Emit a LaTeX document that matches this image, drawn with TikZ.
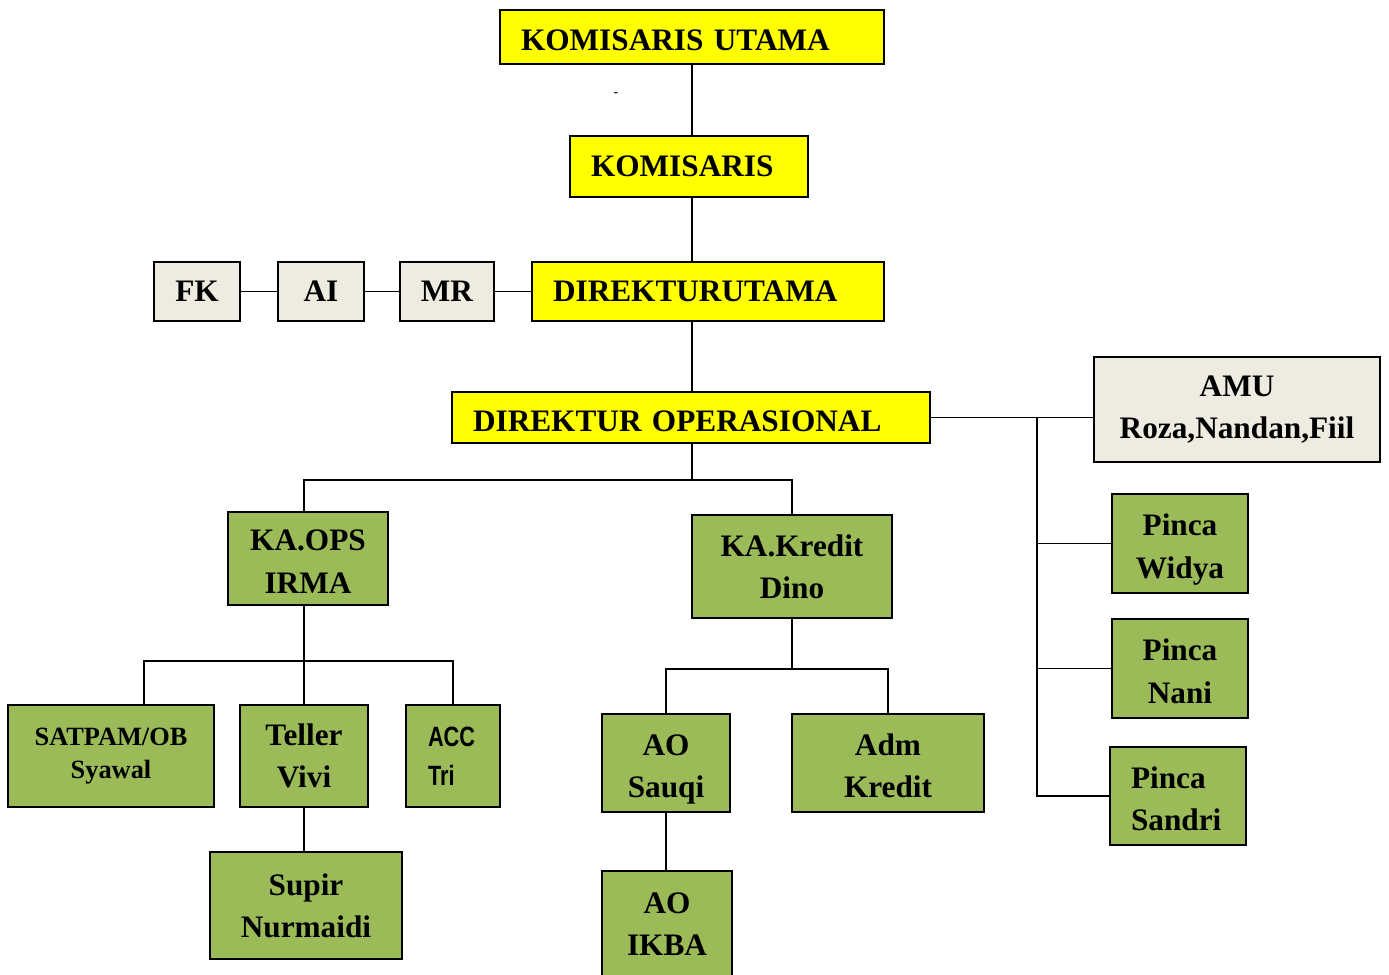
\documentclass[tikz,border=0pt]{standalone}
\usepackage{fontspec}
\setmainfont{Liberation Serif}
\newfontfamily\accfont[FakeStretch=0.78]{Liberation Sans}

\definecolor{kuning}{HTML}{FFFF00}
\definecolor{hijau}{HTML}{9BBB59}
\definecolor{krem}{HTML}{EEECE1}

\begin{document}
\begin{tikzpicture}[
    x=0.02cm, y=-0.02cm,
    every node/.style={font=\fontsize{17.8}{24}\selectfont\bfseries},
    topbox/.style={
        draw, line width=1.1pt, fill=kuning,
        align=left, inner xsep=0.42cm, inner ysep=0pt
    },
    staffbox/.style={
        draw, line width=1.1pt, fill=krem,
        align=center, inner sep=0pt
    },
    unitbox/.style={
        draw, line width=1.1pt, fill=hijau,
        align=center, inner sep=0pt
    },
    tengah/.style={text height=39.4pt, text depth=0pt},
    turun/.style={text height=15.8pt, text depth=0pt},
    link/.style={line width=1pt}
]

\useasboundingbox (0,0) rectangle (1389,974);

% Dewan komisaris
\node[topbox, turun, text width=6.84cm, minimum height=1.08cm] (ku) at (692,37) {KOMISARIS UTAMA};
\node[font=\fontsize{8}{8}\selectfont, inner sep=0pt] (titik) at (616,95) {-};
\node[topbox, text width=3.92cm, minimum height=1.22cm] (kom) at (689,166.5) {KOMISARIS};

% Direksi
\node[topbox, text width=6.20cm, minimum height=1.18cm] (dirut) at (708,291.5) {DIREKTURUTAMA};
\node[topbox, turun, text width=8.72cm, minimum height=1.02cm] (dirops) at (691,417.5) {DIREKTUR OPERASIONAL};

% Staf direktur utama
\node[staffbox, minimum width=1.72cm, minimum height=1.18cm] (fk) at (197,291.5) {FK};
\node[staffbox, minimum width=1.72cm, minimum height=1.18cm] (ai) at (321,291.5) {AI};
\node[staffbox, minimum width=1.88cm, minimum height=1.18cm] (mr) at (447,291.5) {MR};
\node[staffbox, minimum width=5.72cm, minimum height=2.10cm] (amu) at (1237,409.5) {AMU\\Roza,Nandan,Fiil};

% Bagian operasional
\node[unitbox, tengah, minimum width=3.20cm, minimum height=1.86cm] (kaops) at (308,558.5) {KA.OPS\\IRMA};
\node[unitbox, minimum width=4.12cm, minimum height=2.04cm,
      font=\fontsize{15}{19}\selectfont\bfseries] (satpam) at (111,756) {SATPAM/OB\\Syawal};
\node[unitbox, minimum width=2.56cm, minimum height=2.04cm] (teller) at (304,756) {Teller\\Vivi};
\node[unitbox, align=left, text width=1.0cm, inner xsep=0.44cm, minimum height=2.04cm,
      font=\accfont\fontsize{15.9}{22}\selectfont\bfseries] (acc) at (453,756) {ACC\\Tri};
\node[unitbox, minimum width=3.84cm, minimum height=2.14cm] (supir) at (306,905.5) {Supir\\Nurmaidi};

% Bagian kredit
\node[unitbox, minimum width=4.00cm, minimum height=2.06cm] (kakredit) at (792,566.5) {KA.Kredit\\Dino};
\node[unitbox, tengah, minimum width=2.56cm, minimum height=1.96cm] (sauqi) at (666,763) {AO\\Sauqi};
\node[unitbox, tengah, minimum width=3.84cm, minimum height=1.96cm] (adm) at (888,763) {Adm\\Kredit};
\node[unitbox, minimum width=2.60cm, minimum height=2.14cm] (ikba) at (667,924.5) {AO\\IKBA};

% Pimpinan cabang
\node[unitbox, tengah, minimum width=2.72cm, minimum height=1.98cm] (widya) at (1180,543.5) {Pinca\\Widya};
\node[unitbox, tengah, minimum width=2.72cm, minimum height=1.98cm] (nani) at (1180,668.5) {Pinca\\Nani};
\node[unitbox, align=left, text width=1.88cm, inner xsep=0.42cm, text height=15pt, text depth=24pt,
      minimum height=1.96cm] (sandri) at (1178,796) {Pinca\\Sandri};

% Garis komando
\coordinate (cabang) at (692,480);
\coordinate (cabangops) at (304,661);
\coordinate (cabangkredit) at (792,669);
\coordinate (tiang) at (1037,418);

\draw[link] (ku.south) -- (ku.south |- kom.north);
\draw[link] (ku.south |- kom.south) -- (ku.south |- dirut.north);
\draw[link] (ku.south |- dirut.south) -- (ku.south |- dirops.north);
\draw[link] (ku.south |- dirops.south) -- (cabang);
\draw[link] (teller.north |- kaops.north) |- (cabang) -| (kakredit.north);

\draw[link] (fk.east) -- (ai.west);
\draw[link] (ai.east) -- (mr.west);
\draw[link] (mr.east) -- (dirut.west);

\draw[link] (dirops.east) -- (dirops.east -| amu.west);
\draw[link] (tiang) |- (sandri.west);
\draw[link] (tiang |- widya.west) -- (widya.west);
\draw[link] (tiang |- nani.west) -- (nani.west);

\draw[link] (teller.north |- kaops.south) -- (teller.north);
\draw[link] ([xshift=0.66cm]satpam.north) |- (cabangops) -| (acc.north);
\draw[link] (teller.south) -- (teller.south |- supir.north);

\draw[link] (kakredit.south) -- (cabangkredit);
\draw[link] (sauqi.north) |- (cabangkredit) -| (adm.north);
\draw[link] (sauqi.south) -- (sauqi.south |- ikba.north);

\end{tikzpicture}
\end{document}
